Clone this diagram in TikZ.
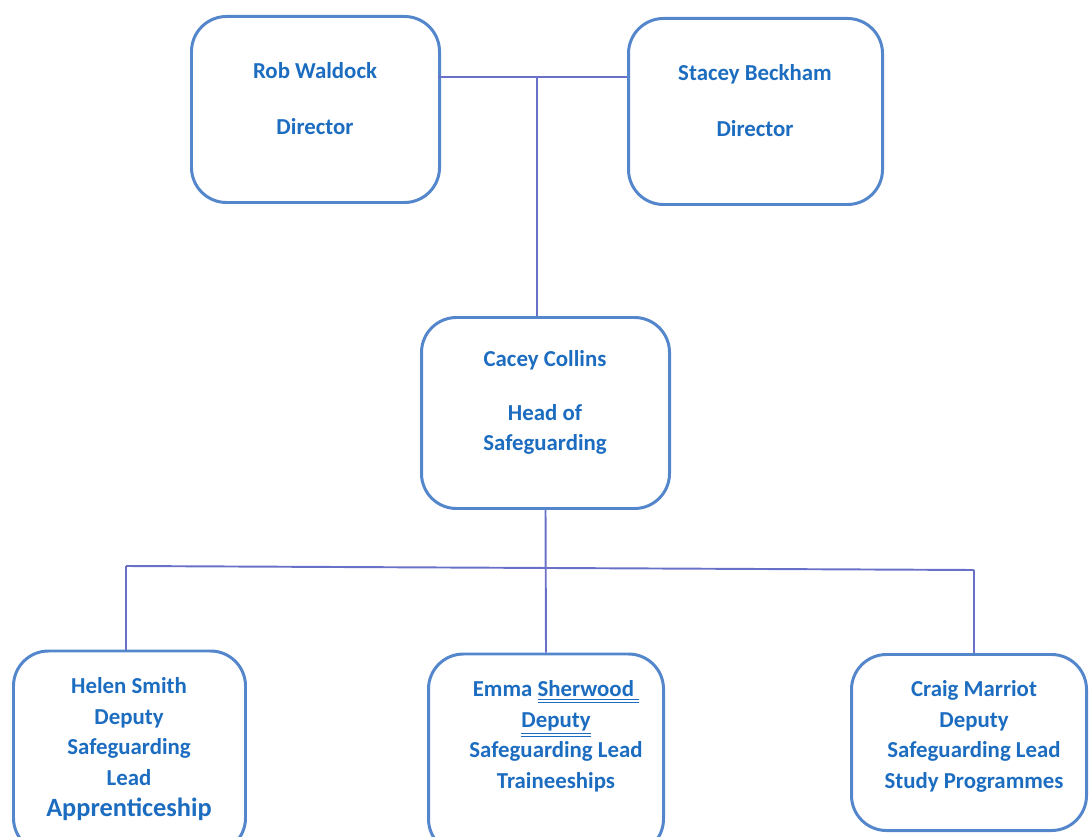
\documentclass[tikz,border=0pt]{standalone}
\usepackage{fontspec}
\setmainfont{Carlito}
\usepackage{tikz}
\usetikzlibrary{positioning,calc}
\definecolor{boxblue}{RGB}{84,134,204}
\definecolor{linkblue}{RGB}{104,112,200}
\definecolor{nameblue}{RGB}{28,108,192}
\newcommand\dblul[1]{$\underline{\underline{\hbox{#1}}}$}

\tikzset{
  orgbox/.style={draw=boxblue,line width=1.7pt,rounded corners=0.7cm,inner sep=0pt},
  sz/.style 2 args={minimum width=#1*0.02cm,minimum height=#2*0.02cm},
  orgtext/.style={anchor=north,align=center,inner sep=0pt,text=nameblue,
    font=\fontsize{13}{17.5}\selectfont\bfseries},
  link/.style={draw=linkblue,line width=1.1pt}
}

\begin{document}
\begin{tikzpicture}[x=0.02cm,y=-0.02cm]
\clip (0,0) rectangle (1091,837);
% directors
\node[orgbox,sz={248}{186}] (rob) at (315.5,109.5) {};
\node[orgbox,sz={254}{186}] (stacey) at (755.5,111.5) {};
\node[orgtext] (robtxt) at (315,62) {Rob Waldock\\[0.5cm]Director};
\node[orgtext] (staceytxt) at (755,64) {Stacey Beckham\\[0.5cm]Director};
% head of safeguarding
\node[orgbox,sz={248}{191}] (cacey) at (545.5,413) {};
\node[orgtext] (caceytxt) at (545,350) {Cacey Collins\\[0.46cm]Head of\\Safeguarding};
% deputies
\node[orgbox,sz={232}{202}] (helen) at (129.5,752) {};
\node[orgbox,sz={235}{200}] (emma) at (546,754) {};
\node[orgbox,sz={235}{176}] (craig) at (969,742.5) {};
\node[orgtext] (helentxt) at (129,677) {Helen Smith\\Deputy\\Safeguarding\\Lead\\{\fontsize{15}{17.5}\selectfont Apprenticeship}};
\node[orgtext] (emmatxt) at (556,680) {Emma \dblul{Sherwood\ }\\\dblul{Deputy}\\Safeguarding Lead\\Traineeships};
\node[orgtext] (craigtxt) at (974,680) {Craig Marriot\\Deputy\\Safeguarding Lead\\Study Programmes};
% connectors
\coordinate (dirbar) at (537,77);
\coordinate (depbar) at (545,568);
\coordinate (hl) at (126,566);
\coordinate (cr) at (974,570);
\draw[link] ([xshift=-3*0.02cm]rob.east |- dirbar) -- (stacey.west |- dirbar);
\draw[link] (dirbar) -- (dirbar |- cacey.north);
\draw[link] (hl) -- (cr);
\draw[link] (cacey.south) -- (emma.north);
\draw[link] (hl) -- (hl |- helen.north);
\draw[link] (cr) -- (cr |- craig.north);
\end{tikzpicture}
\end{document}
